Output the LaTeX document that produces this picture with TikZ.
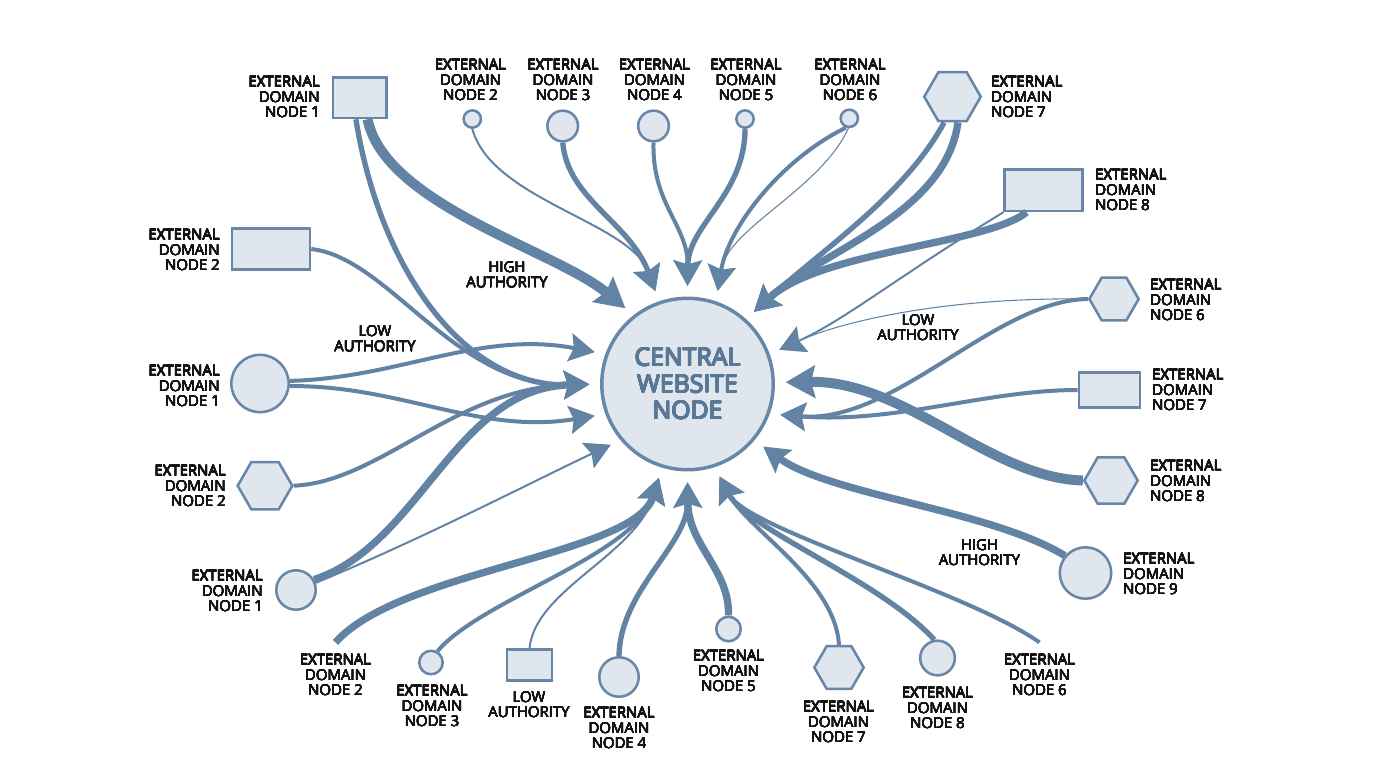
\documentclass[tikz,border=0pt]{standalone}
\usepackage{fontspec}
\setmainfont{Open Sans}
\usepackage[copies]{contour}
\contourlength{0.1pt}
\contournumber{12}
\usetikzlibrary{arrows.meta,shapes.geometric}

\definecolor{linkblue}{RGB}{98,131,163}
\definecolor{nodefill}{RGB}{223,230,238}
\definecolor{nodeline}{RGB}{104,135,166}
\definecolor{hubtext}{RGB}{88,120,150}
\definecolor{labeltext}{RGB}{20,20,20}

% heavier label lines
\newcommand{\heavy}[1]{\contour{labeltext}{#1}}
\newcommand{\hubline}[1]{{\contourlength{0.4pt}\contour[16]{hubtext}{#1}}}
\newcommand{\domname}[1]{\heavy{EXTERNAL}\\\heavy{DOMAIN}\\\heavy{NODE #1}}
\newcommand{\authname}[1]{\heavy{#1}\\\heavy{AUTHORITY}}

\tikzset{
	domrect/.style={draw=nodeline, fill=nodefill, line width=1.9pt, inner sep=0pt},
	domcirc/.style={circle, draw=nodeline, fill=nodefill, line width=1.9pt, inner sep=0pt},
	domhex/.style={regular polygon, regular polygon sides=6, draw=nodeline, fill=nodefill, line width=1.9pt, inner sep=0pt},
	lbl/.style={text=labeltext, font=\fontsize{11.2}{11.4}\selectfont, inner sep=0.75pt, align=center},
	link/.style={draw=linkblue, shorten >=8pt, -{Stealth[length=19pt,width=21pt,inset=3pt]}},
	hairlink/.style={link, line width=0.8pt},
	faintlink/.style={link, line width=1.5pt},
	midlink/.style={link, line width=3pt},
	boldlink/.style={link, line width=4pt},
	heavylink/.style={link, line width=5.5pt},
	maxlink/.style={link, line width=7.5pt, -{Stealth[length=22pt,width=24pt,inset=3pt]}}
}

\begin{document}
\begin{tikzpicture}[x=0.75pt,y=0.75pt,yscale=-1,xscale=1]
	\useasboundingbox (0,0) rectangle (1376,768);
	
	%Shape: Circle [central]
	\node [circle, draw=nodeline, fill=nodefill, line width=2.6pt, minimum size=128.6pt, inner sep=0pt, text=hubtext, font=\fontsize{18.6}{20}\selectfont, align=center] (hub) at (687.5,384) {\hubline{CENTRAL}\\\hubline{WEBSITE}\\\hubline{NODE}};
	
	%Shapes: top row
	\node [domrect, minimum width=40pt, minimum height=30.4pt] (t1) at (359.7,97.7) {};
	\node [domcirc, minimum size=13pt] (t2) at (472.3,119) {};
	\node [domcirc, minimum size=23pt] (t3) at (562.7,126) {};
	\node [domcirc, minimum size=23pt] (t4) at (653.5,126) {};
	\node [domcirc, minimum size=13pt] (t5) at (745,119) {};
	\node [domcirc, minimum size=13pt] (t6) at (849.3,118.3) {};
	\node [domhex, minimum size=42.4pt] (t7) at (952.5,96.7) {};
	\node [domrect, minimum width=58.5pt, minimum height=31pt] (t8) at (1043.7,190.3) {};
	
	%Shapes: right side
	\node [domhex, minimum size=37pt] (r6) at (1114,299) {};
	\node [domrect, minimum width=46pt, minimum height=26pt] (r7) at (1109.5,390) {};
	\node [domhex, minimum size=40pt] (r8) at (1111,480.5) {};
	\node [domcirc, minimum size=38.6pt] (r9) at (1085.5,573) {};
	
	%Shapes: bottom row
	\node [domcirc, minimum size=17.6pt] (b3) at (431,662.5) {};
	\node [domrect, minimum width=33.8pt, minimum height=23pt] (blow) at (529.5,665) {};
	\node [domcirc, minimum size=29.6pt] (b4) at (619,677) {};
	\node [domcirc, minimum size=18.4pt] (b5) at (728.5,629) {};
	\node [domhex, minimum size=37pt] (b7) at (839,667.5) {};
	\node [domcirc, minimum size=26pt] (b8) at (937.5,658) {};
	
	%Shapes: left side
	\node [domrect, minimum width=58.5pt, minimum height=31pt] (l2) at (271,249) {};
	\node [domcirc, minimum size=43pt] (l1) at (260,383.5) {};
	\node [domhex, minimum size=41pt] (lh2) at (265,485.7) {};
	\node [domcirc, minimum size=29.6pt] (l1b) at (296,590) {};
	
	% Text Node
	\node [lbl, anchor=east, align=right] (t1lab) at (321,97) {\domname{1}};
	\node [lbl] (t2lab) at (470.5,80) {\domname{2}};
	\node [lbl] (t3lab) at (563,80) {\domname{3}};
	\node [lbl] (t4lab) at (654.5,80) {\domname{4}};
	\node [lbl] (t5lab) at (746,80) {\domname{5}};
	\node [lbl] (t6lab) at (850,80) {\domname{6}};
	\node [lbl, anchor=west, align=left] (t7lab) at (990,97) {\domname{7}};
	\node [lbl, anchor=west, align=left] (t8lab) at (1094,190) {\domname{8}};
	\node [lbl, anchor=west, align=left] (r6lab) at (1149,300) {\domname{6}};
	\node [lbl, anchor=west, align=left] (r7lab) at (1151,390) {\domname{7}};
	\node [lbl, anchor=west, align=left] (r8lab) at (1149,481) {\domname{8}};
	\node [lbl, anchor=west, align=left] (r9lab) at (1122,574) {\domname{9}};
	\node [lbl] (b2lab) at (335.5,675) {\domname{2}};
	\node [lbl] (b3lab) at (432,706) {\domname{3}};
	\node [lbl] (blowlab) at (529,704.5) {\authname{LOW}};
	\node [lbl] (b4lab) at (619,728) {\domname{4}};
	\node [lbl] (b5lab) at (728.5,671) {\domname{5}};
	\node [lbl] (b7lab) at (838.5,722) {\domname{7}};
	\node [lbl] (b8lab) at (937.5,708) {\domname{8}};
	\node [lbl] (b6lab) at (1039.5,675) {\domname{6}};
	\node [lbl, anchor=east, align=right] (l2lab) at (221,250) {\domname{2}};
	\node [lbl, anchor=east, align=right] (l1lab) at (221,386) {\domname{1}};
	\node [lbl, anchor=east, align=right] (lh2lab) at (227,486) {\domname{2}};
	\node [lbl, anchor=east, align=right] (l1blab) at (264,591) {\domname{1}};
	\node [lbl] (hightl) at (507,275) {\authname{HIGH}};
	\node [lbl] (lowtl) at (375,339) {\authname{LOW}};
	\node [lbl] (lowtr) at (918,327.5) {\authname{LOW}};
	\node [lbl] (highbr) at (979.5,552.5) {\authname{HIGH}};
	
	%Curve Lines: top
	\draw [maxlink] (t1.-70) .. controls (385,205) and (555,250) .. (hub.128);
	\draw [boldlink] (t1.-100) .. controls (380,270) and (465,388) .. (hub.180);
	\draw [faintlink] (t2.south) .. controls (492,200) and (630,222) .. (hub.109);
	\draw [boldlink] (t3.south) .. controls (568,200) and (630,222) .. (hub.109);
	\draw [midlink] (t4.south) .. controls (652,205) and (688,225) .. (hub.90);
	\draw [boldlink] (t5.south) .. controls (745,195) and (688,225) .. (hub.90);
	\draw [midlink] (t6.-110) .. controls (780,160) and (728,228) .. (hub.71);
	\draw [hairlink] (t6.-95) .. controls (820,190) and (728,228) .. (hub.71);
	\draw [boldlink] (t7.-108) .. controls (905,195) and (822,250) .. (hub.48);
	\draw [heavylink] (t7.-78) .. controls (945,215) and (822,250) .. (hub.48);
	\draw [heavylink] (t8.-128) .. controls (985,245) and (822,250) .. (hub.48);
	\draw [faintlink] (t8.south west) .. controls (900,275) and (845,320) .. (hub.20);
	
	%Curve Lines: right
	\draw [hairlink] (r6.west) .. controls (950,297) and (845,320) .. (hub.20);
	\draw [midlink] (r6.west) .. controls (995,300) and (895,424) .. (hub.340);
	\draw [midlink] (r7.west) .. controls (985,390) and (895,424) .. (hub.340);
	\draw [maxlink] (r8.west) .. controls (990,478) and (905,380) .. (hub.1);
	\draw [heavylink] (r9.140) .. controls (990,510) and (830,495) .. (hub.320);
	
	%Curve Lines: bottom
	\draw [midlink] ([yshift=-8pt]b6lab.north) .. controls (965,590) and (748,530) .. (hub.288);
	\draw [boldlink] (b8.100) .. controls (880,580) and (748,530) .. (hub.288);
	\draw [midlink] (b7.north) .. controls (835,580) and (748,530) .. (hub.288);
	\draw [heavylink] (b5.north) .. controls (730,570) and (688,545) .. (hub.270);
	\draw [boldlink] (b4.north) .. controls (620,590) and (688,545) .. (hub.270);
	\draw [heavylink] ([yshift=-8pt]b2lab.north) .. controls (400,570) and (635,555) .. (hub.253);
	\draw [midlink] (b3.60) .. controls (480,600) and (635,555) .. (hub.253);
	\draw [faintlink] (blow.north) .. controls (535,590) and (635,555) .. (hub.253);
	
	%Curve Lines: left
	\draw [heavylink] (l1b.30) .. controls (420,545) and (455,388) .. (hub.180);
	\draw [faintlink] (l1b.20) .. controls (420,540) and (540,478) .. (hub.220);
	\draw [midlink] (lh2.east) .. controls (380,482) and (455,388) .. (hub.180);
	\draw [midlink] (l2.east) .. controls (390,258) and (455,388) .. (hub.180);
	\draw [midlink] (l1.5) .. controls (400,378) and (480,330) .. (hub.160);
	\draw [midlink] (l1.-5) .. controls (400,385) and (480,435) .. (hub.200);
\end{tikzpicture}
\end{document}
